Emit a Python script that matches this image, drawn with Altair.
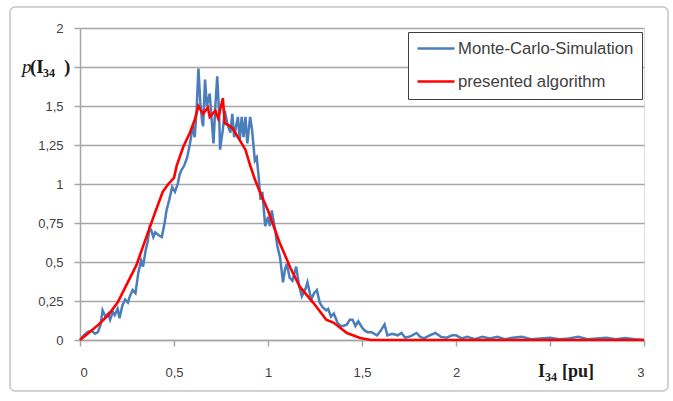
import altair as alt
import pandas as pd

# Monte-Carlo-Simulation
mc_x = [0.0, 0.02, 0.04, 0.06, 0.08, 0.095, 0.11, 0.12, 0.135, 0.15, 0.16, 0.175, 0.185, 0.2, 0.21,
        0.225, 0.24, 0.255, 0.265, 0.28, 0.295, 0.31, 0.325, 0.335, 0.35, 0.36, 0.37, 0.38, 0.39, 0.4,
        0.42, 0.435, 0.45, 0.46, 0.475, 0.49, 0.505, 0.52, 0.53, 0.54, 0.555, 0.57, 0.585, 0.6, 0.61,
        0.62, 0.63, 0.64, 0.65, 0.655, 0.665, 0.675, 0.69, 0.7, 0.71, 0.72, 0.73, 0.74, 0.745, 0.76,
        0.77, 0.785, 0.8, 0.81, 0.82, 0.83, 0.84, 0.85, 0.86, 0.87, 0.88, 0.89, 0.905, 0.915, 0.93,
        0.94, 0.95, 0.96, 0.97, 0.985, 1.0, 1.01, 1.02, 1.03, 1.04, 1.05, 1.064, 1.08, 1.09, 1.1,
        1.115, 1.13, 1.15, 1.165, 1.18, 1.2, 1.21, 1.23, 1.245, 1.26, 1.275, 1.29, 1.31, 1.32, 1.335,
        1.35, 1.37, 1.385, 1.4, 1.42, 1.435, 1.45, 1.465, 1.48, 1.5, 1.515, 1.53, 1.55, 1.58, 1.6,
        1.62, 1.635, 1.66, 1.69, 1.71, 1.73, 1.76, 1.79, 1.81, 1.83, 1.86, 1.89, 1.92, 1.95, 1.98,
        2.0, 2.03, 2.06, 2.1, 2.14, 2.18, 2.22, 2.26, 2.3, 2.35, 2.4, 2.45, 2.5, 2.55, 2.6, 2.65,
        2.7, 2.75, 2.8, 2.85, 2.9, 2.95, 3.0]
mc_y = [0.0, 0.03, 0.05, 0.06, 0.04, 0.05, 0.1, 0.19, 0.15, 0.17, 0.13, 0.18, 0.16, 0.2, 0.14,
        0.22, 0.26, 0.24, 0.28, 0.32, 0.3, 0.43, 0.51, 0.47, 0.58, 0.63, 0.72, 0.7, 0.66, 0.69,
        0.67, 0.66, 0.75, 0.83, 0.9, 0.98, 0.95, 1.0, 1.06, 1.09, 1.12, 1.17, 1.26, 1.37, 1.3,
        1.47, 1.74, 1.52, 1.4, 1.37, 1.67, 1.5, 1.58, 1.42, 1.26, 1.5, 1.69, 1.45, 1.22, 1.35,
        1.47, 1.38, 1.33, 1.45, 1.3, 1.37, 1.43, 1.28, 1.43, 1.3, 1.43, 1.26, 1.43, 1.35, 1.15,
        1.17, 1.05, 0.9, 0.95, 0.73, 0.79, 0.73, 0.83, 0.76, 0.69, 0.6, 0.53, 0.37, 0.45, 0.49,
        0.4, 0.38, 0.47, 0.35, 0.28, 0.33, 0.37, 0.26, 0.3, 0.32, 0.24, 0.21, 0.19, 0.2, 0.15,
        0.17, 0.11, 0.09, 0.09, 0.1, 0.13, 0.13, 0.09, 0.12, 0.08, 0.06, 0.05, 0.05, 0.03, 0.06,
        0.1, 0.03, 0.04, 0.03, 0.045, 0.015, 0.025, 0.045, 0.02, 0.01, 0.03, 0.045, 0.02, 0.015, 0.03,
        0.03, 0.01, 0.02, 0.005, 0.02, 0.01, 0.02, 0.005, 0.015, 0.02, 0.005, 0.01, 0.015, 0.005, 0.01, 0.02,
        0.005, 0.01, 0.015, 0.005, 0.012, 0.005, 0.0]

# presented algorithm
pa_x = [0.0, 0.05, 0.1, 0.15, 0.2, 0.25, 0.3, 0.35, 0.4, 0.44, 0.47, 0.5, 0.515, 0.55, 0.585, 0.61,
        0.63, 0.655, 0.68, 0.69, 0.72, 0.735, 0.76, 0.77, 0.8, 0.815, 0.84, 0.88, 0.905, 0.93, 0.96,
        1.0, 1.06, 1.12, 1.17, 1.24, 1.31, 1.35, 1.42, 1.49, 1.55, 2.0, 2.5, 3.0]
pa_y = [0.0, 0.05, 0.1, 0.16, 0.24, 0.36, 0.48, 0.65, 0.82, 0.95, 1.0, 1.04, 1.12, 1.24, 1.33, 1.41,
        1.5, 1.45, 1.49, 1.43, 1.47, 1.42, 1.55, 1.39, 1.37, 1.35, 1.3, 1.22, 1.12, 1.03, 0.94,
        0.83, 0.63, 0.46, 0.34, 0.24, 0.13, 0.11, 0.045, 0.013, 0.0, 0.0, 0.0, 0.0]

series = ["Monte-Carlo-Simulation", "presented algorithm"]
colors = ["#4a7ebb", "#ff0000"]
y_ticks = [0, 0.25, 0.5, 0.75, 1, 1.25, 1.5, 1.75, 2]
x_ticks = [0, 0.5, 1, 1.5, 2, 2.5, 3]

mc = pd.DataFrame({"x": mc_x, "y": mc_y, "s": series[0]})
pa = pd.DataFrame({"x": pa_x, "y": pa_y, "s": series[1]})
one = pd.DataFrame({"k": [0]})

GRID = "#a6a6a6"
LBL = "#404040"

xenc = alt.X("x:Q", scale=alt.Scale(domain=[0, 3], nice=False, zero=False),
             axis=alt.Axis(values=x_ticks, title=None, grid=False, tickSize=6, labelPadding=20,
                           labelExpr="datum.value == 2.5 ? '' : replace(format(datum.value, '~g'), '.', ',')",
                           labelFont="Liberation Sans", labelFontSize=13, labelColor=LBL,
                           domainColor=GRID, domainWidth=1.5, tickColor=GRID, tickWidth=1.5))
yenc = alt.Y("y:Q", scale=alt.Scale(domain=[0, 2], nice=False),
             axis=alt.Axis(values=y_ticks, title=None, grid=True, gridColor=GRID, gridWidth=1.5,
                           tickSize=6, labelPadding=11,
                           labelExpr="datum.value == 1.75 ? '' : replace(format(datum.value, '~g'), '.', ',')",
                           labelFont="Liberation Sans", labelFontSize=13, labelColor=LBL,
                           domainColor=GRID, domainWidth=1.5, tickColor=GRID, tickWidth=1.5))
cenc = alt.Color("s:N", scale=alt.Scale(domain=series, range=colors),
                 legend=alt.Legend(title=None, orient="none", legendX=328, legendY=4,
                                   direction="vertical", fillColor="white", strokeColor="#3f3f3f",
                                   padding=8, rowPadding=15, clipHeight=17, symbolType="stroke",
                                   symbolSize=1369, symbolStrokeWidth=2.5, labelFont="Liberation Sans",
                                   labelFontSize=16.7, labelColor=LBL, labelOffset=2, labelLimit=400))

frame = alt.Chart(one).mark_rect(fillOpacity=0, stroke="#c4c4c4", strokeWidth=1.5, cornerRadius=5).encode(
    x=alt.value(-70), x2=alt.value(588), y=alt.value(-21), y2=alt.value(363))

blue = alt.Chart(mc).mark_line(strokeWidth=2.5).encode(x=xenc, y=yenc, color=cenc)
red = alt.Chart(pa).mark_line(strokeWidth=2.6).encode(x=xenc, y=yenc, color=cenc)

def txt(s, x, y, size, weight="bold", style="normal"):
    return alt.Chart(one).mark_text(text=s, font="Liberation Serif", fontSize=size, fontWeight=weight,
                                    fontStyle=style, align="left", baseline="alphabetic",
                                    color="#1a1a1a").encode(x=alt.value(x), y=alt.value(y))

labels = [
    txt("p", -58, 45, 19, weight="normal", style="italic"),
    txt("(I", -50, 45, 19),
    txt("34", -37, 49, 12),
    txt(")", -16, 45, 19),
    txt("I", 458, 349, 18),
    txt("34", 465, 353, 12),
    txt("[pu]", 482, 349, 18),
]

chart = alt.layer(frame, blue, red, *labels).properties(
    width=564, height=312,
    padding={"left": 80, "top": 28, "right": 29, "bottom": 61},
    autosize=alt.AutoSizeParams(type="none"),
).configure_view(stroke=None).configure(background="white")

chart.save("out.html", embed_options={"renderer": "svg", "actions": False})
